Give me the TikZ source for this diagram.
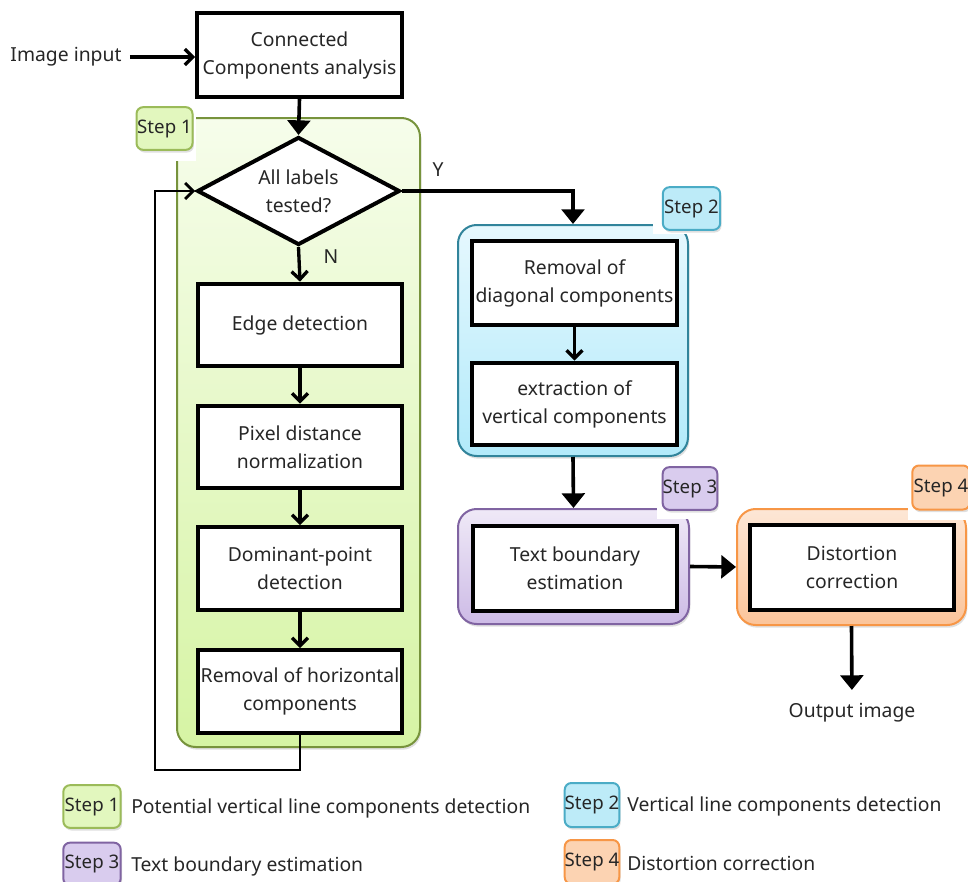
\documentclass[tikz,border=0pt]{standalone}
\usepackage{fontspec}
\setmainfont{Noto Sans}
\usetikzlibrary{arrows.meta,shapes.geometric,shadows,fit}
\definecolor{gTop}{HTML}{F6FDEB}
\definecolor{gBot}{HTML}{D6F4A4}
\definecolor{gLine}{HTML}{77933C}
\definecolor{gBadge}{HTML}{E2F7BE}
\definecolor{gBadgeLine}{HTML}{9BBB59}
\definecolor{cTop}{HTML}{E6F8FE}
\definecolor{cBot}{HTML}{B2EAFA}
\definecolor{cLine}{HTML}{31849B}
\definecolor{cBadge}{HTML}{BDEBF8}
\definecolor{cBadgeLine}{HTML}{4BACC6}
\definecolor{pTop}{HTML}{EFE9F7}
\definecolor{pBot}{HTML}{CDBBE6}
\definecolor{pLine}{HTML}{8064A2}
\definecolor{pBadge}{HTML}{D9CCEE}
\definecolor{oTop}{HTML}{FDE7D6}
\definecolor{oBot}{HTML}{FBC49A}
\definecolor{oLine}{HTML}{F79646}
\definecolor{oBadge}{HTML}{FCD3B2}
\begin{document}
\begin{tikzpicture}[x=0.75pt,y=-0.75pt,
  txt/.style={font=\fontsize{14.5}{21}\selectfont, text=black!85},
  proc/.style={draw=black, line width=3pt, fill=white, inner sep=0pt, align=center, txt,
    minimum width=153.5pt, minimum height=62pt},
  region/.style={line width=1.5pt, rounded corners=14pt, inner sep=0pt,
    drop shadow={opacity=0.25, shadow xshift=1pt, shadow yshift=-2pt}},
  badge/.style={line width=1.5pt, rounded corners=5pt, inner sep=0pt,
    font=\fontsize{14}{16}\selectfont, text=black!85,
    drop shadow={opacity=0.25, shadow xshift=1pt, shadow yshift=-2pt}},
  arr/.style={line width=2.7pt, -{Triangle[width=17pt,length=11pt]}},
  carr/.style={line width=2.5pt, -{Straight Barb[width=12pt,length=6pt]}},
  lbl/.style={txt, inner sep=0pt}
]
\useasboundingbox (0,0) rectangle (968,882);

% regions
\node[region, draw=gLine, top color=gTop, bottom color=gBot, fit={(177,118) (420,747)}] (s1) {};
\node[region, draw=cLine, top color=cTop, bottom color=cBot, fit={(458,225) (688,456)}] (s2) {};
\node[region, draw=pLine, top color=pTop, bottom color=pBot, fit={(458,509) (689,624)}] (s3) {};
\node[region, draw=oLine, top color=oTop, bottom color=oBot, fit={(737,509) (966,625)}] (s4) {};

% white backgrounds of badges
\fill[white] (130,100) rectangle (196,161);
\fill[white] (653,180) rectangle (735,234);
\fill[white] (657,461) rectangle (730,519);
\fill[white] (908,458) rectangle (968,520);

% badges
\node[badge, draw=gBadgeLine, fill=gBadge, minimum width=42pt, minimum height=32pt] (b1) at (164.5,128.5) {Step 1};
\node[badge, draw=cBadgeLine, fill=cBadge, minimum width=43pt, minimum height=32pt] (b2) at (691.5,208.5) {Step 2};
\node[badge, draw=pLine, fill=pBadge, minimum width=41pt, minimum height=32pt] (b3) at (690,488.5) {Step 3};
\node[badge, draw=oLine, fill=oBadge, minimum width=43pt, minimum height=33pt] (b4) at (941,487.5) {Step 4};

% process boxes
\node[proc, minimum height=63pt] (cc) at (299.5,55) {Connected\\Components analysis};
\node[proc, diamond, aspect=1.88, minimum width=152pt, minimum height=81pt] (dia) at (298.5,191) {All labels\\tested?};
\node[proc] (edge) at (300,325) {Edge detection};
\node[proc] (pix) at (300,447) {Pixel distance\\normalization};
\node[proc] (dom) at (300,568.5) {Dominant-point\\detection};
\node[proc] (rem) at (300,691.5) {Removal of horizontal\\components};
\node[proc, minimum height=63pt] (rdiag) at (574.5,283) {Removal of\\diagonal components};
\node[proc] (extr) at (574.5,404) {extraction of\\vertical components};
\node[proc, minimum height=63.5pt] (tbe) at (575,568.5) {Text boundary\\estimation};
\node[proc, minimum height=63.5pt] (dist) at (852,567.5) {Distortion\\correction};

% free texts
\node[lbl] (inp) at (66,57) {Image input};
\node[lbl] (out) at (852,713) {Output image};
\node[lbl] (nlab) at (331,257) {N};
\node[lbl] (ylab) at (438,170) {Y};

% connectors
\draw[carr] ([xshift=6pt]inp.east) -- (inp.east -| cc.west);
\draw[arr] (cc.south) -- (dia.north);
\draw[carr] (dia.south) -- (edge.north);
\draw[carr] (edge.south) -- (pix.north);
\draw[carr] (pix.south) -- (dom.north);
\draw[carr] (dom.south) -- (rem.north);
\coordinate (lp) at (155,770);
\draw[carr, line width=2.2pt] (rem.south) |- (lp) |- (dia.west);
\draw[arr] (dia.east) -| (s2.north);
\draw[carr] (rdiag.south) -- (extr.north);
\draw[arr] (s2.south) -- (s3.north);
\draw[arr] (s3.east) -- (s4.west);
\draw[arr, shorten >=10pt] (s4.south) -- (out.north);

% legend
\node[badge, draw=gBadgeLine, fill=gBadge, minimum width=43pt, minimum height=32pt] (l1) at (92,806.5) {Step 1};
\node[lbl, anchor=west] (t1) at (131,808) {Potential vertical line components detection};
\node[badge, draw=pLine, fill=pBadge, minimum width=43pt, minimum height=32pt] (l3) at (92,864) {Step 3};
\node[lbl, anchor=west] (t3) at (131,866) {Text boundary estimation};
\node[badge, draw=cBadgeLine, fill=cBadge, minimum width=40pt, minimum height=33pt] (l2) at (592,805) {Step 2};
\node[lbl, anchor=west] (t2) at (627,806) {Vertical line components detection};
\node[badge, draw=oLine, fill=oBadge, minimum width=40pt, minimum height=33pt] (l4) at (592,862) {Step 4};
\node[lbl, anchor=west] (t4) at (627,863) {Distortion correction};
\end{tikzpicture}
\end{document}
